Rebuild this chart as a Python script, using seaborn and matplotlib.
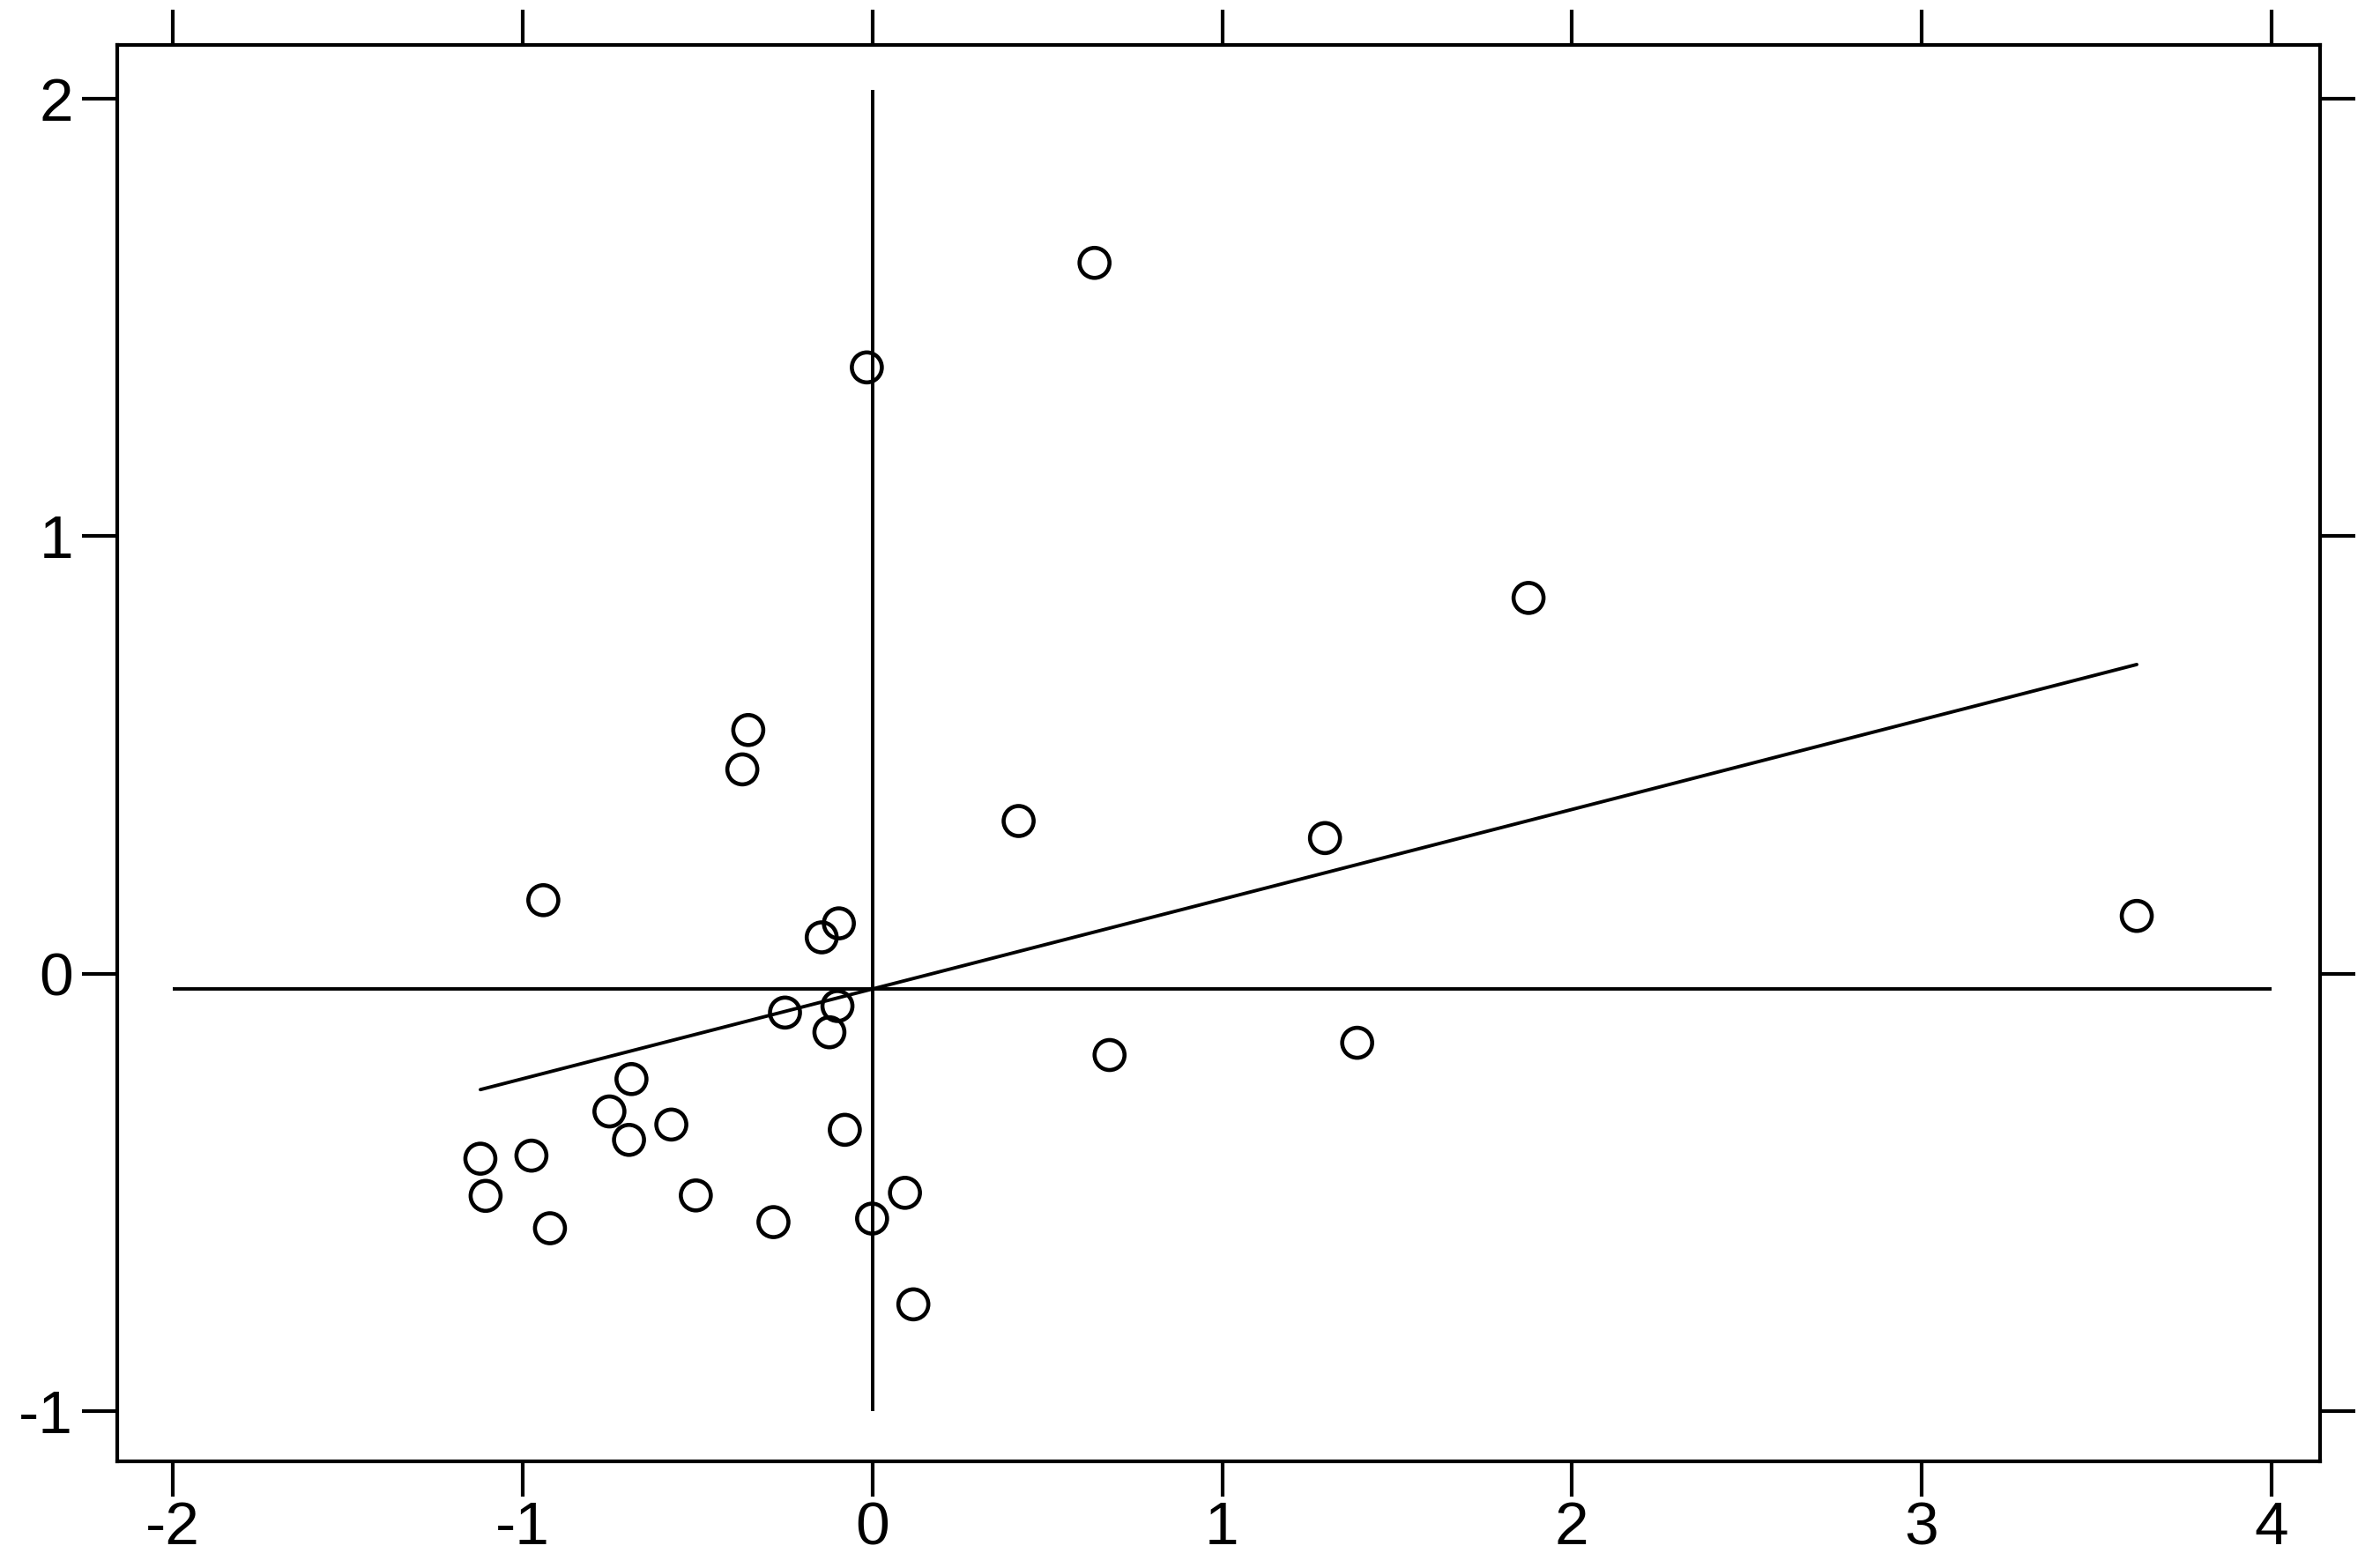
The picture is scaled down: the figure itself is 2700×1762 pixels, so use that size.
import numpy as np
import pandas as pd
import matplotlib
matplotlib.use("Agg")
import matplotlib.pyplot as plt
import seaborn as sns

# ====================== data ======================
x_vals = [0.635, -0.016, 1.876, -0.355, -0.372, 0.418, 1.294, -0.941,
          -0.096, -0.145, 3.615, -0.250, -0.100, -0.123, 1.386, 0.678,
          -0.689, -0.752, -0.575, -0.696, -0.079, -1.121, -0.975, -1.106,
          -0.505, 0.093, -0.922, -0.283, -0.001, 0.117]
y_vals = [1.625, 1.386, 0.859, 0.557, 0.467, 0.349, 0.310, 0.168,
          0.115, 0.083, 0.132, -0.089, -0.074, -0.134, -0.158, -0.186,
          -0.241, -0.315, -0.345, -0.380, -0.357, -0.423, -0.416, -0.508,
          -0.507, -0.501, -0.582, -0.568, -0.560, -0.756]

x_ticks = [-2, -1, 0, 1, 2, 3, 4]
y_ticks = [-1, 0, 1, 2]
x_span = [-2, 4]      # extent of the mean-y reference line
y_span = [-1, 2.02]   # extent of the mean-x reference line

df = pd.DataFrame({"x": x_vals, "y": y_vals})

# ====================== plot ======================
sns.set_style("white")
plt.rcParams["font.family"] = ["Liberation Sans", "DejaVu Sans"]
plt.rcParams["axes.unicode_minus"] = False

fig = plt.figure(figsize=(27, 17.62), dpi=100)
ax = fig.add_axes([0.0493, 0.059, 0.9255, 0.912])

lw = 2.8
# mean lines
ax.hlines(df["y"].mean(), x_span[0], x_span[1], color="black", lw=lw, zorder=1)
ax.vlines(df["x"].mean(), y_span[0], y_span[1], color="black", lw=lw, zorder=1)

sns.regplot(data=df, x="x", y="y", ci=None, ax=ax, color="black",
            scatter_kws=dict(s=600, facecolors="none", edgecolors="black",
                             linewidths=3.3, alpha=1, zorder=3),
            line_kws=dict(color="black", lw=lw, zorder=2))

ax.set_xlim(-2.159, 4.139)
ax.set_ylim(-1.115, 2.123)
ax.set_xticks(x_ticks)
ax.set_yticks(y_ticks)
ax.set_xlabel("")
ax.set_ylabel("")

for sp in ax.spines.values():
    sp.set_visible(True)
    sp.set_color("black")
    sp.set_linewidth(3)

ax.tick_params(axis="both", direction="out", length=29, width=3,
               color="black", labelsize=50, labelcolor="black",
               bottom=True, left=True, top=True, right=True,
               labeltop=False, labelright=False)
ax.tick_params(axis="x", pad=3)
ax.tick_params(axis="y", pad=7)

fig.savefig("out.png", dpi=100, facecolor="white")
